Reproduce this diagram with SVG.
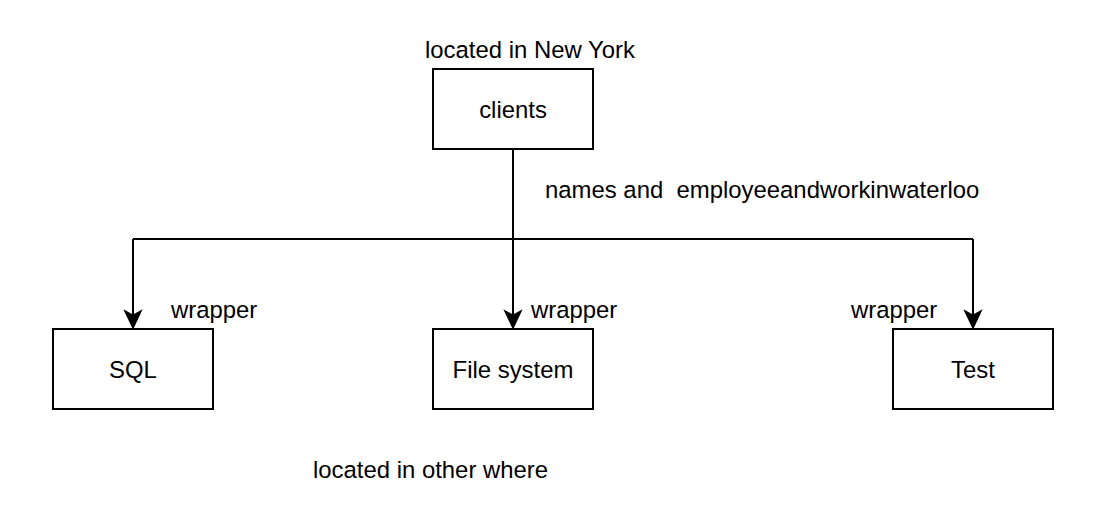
<svg xmlns="http://www.w3.org/2000/svg" width="1096" height="530" viewBox="0 0 1096 530">
<style>
.box{fill:#fff;stroke:#000;stroke-width:2}
.t{font-family:"Liberation Sans",Arial,sans-serif;font-size:23.9px;fill:#000}
.c{text-anchor:middle}
.ln{fill:none;stroke:#000;stroke-width:2}
.ah{fill:#000;stroke:#000;stroke-width:1.5}
</style>
<rect width="1096" height="530" fill="#fff"/>
<g id="connectors">
<path class="ln" d="M513 149 V316"/>
<path class="ln" d="M133 239 H973"/>
<path class="ln" d="M133 239 V316"/>
<path class="ln" d="M973 239 V316"/>
<path class="ah" d="M133 328 L125 311 L133 315.5 L141 311 Z"/>
<path class="ah" d="M513 328 L505 311 L513 315.5 L521 311 Z"/>
<path class="ah" d="M973 328 L965 311 L973 315.5 L981 311 Z"/>
<text class="t" x="545" y="198" xml:space="preserve" style="white-space:pre">names and  employeeandworkinwaterloo</text>
<text class="t" x="171" y="318">wrapper</text>
<text class="t" x="531" y="318">wrapper</text>
<text class="t" x="851" y="318">wrapper</text>
</g>
<g id="clients">
<rect class="box" x="433" y="69" width="160" height="80"/>
<text class="t c" x="513" y="117.5">clients</text>
</g>
<g id="sql">
<rect class="box" x="53" y="329" width="160" height="80"/>
<text class="t c" x="133" y="377.5">SQL</text>
</g>
<g id="filesystem">
<rect class="box" x="433" y="329" width="160" height="80"/>
<text class="t c" x="513" y="377.5">File system</text>
</g>
<g id="test">
<rect class="box" x="893" y="329" width="160" height="80"/>
<text class="t c" x="973" y="377.5">Test</text>
</g>
<g id="labels">
<text class="t" x="425" y="57.5">located in New York</text>
<text class="t" x="313" y="478">located in other where</text>
</g>
</svg>
